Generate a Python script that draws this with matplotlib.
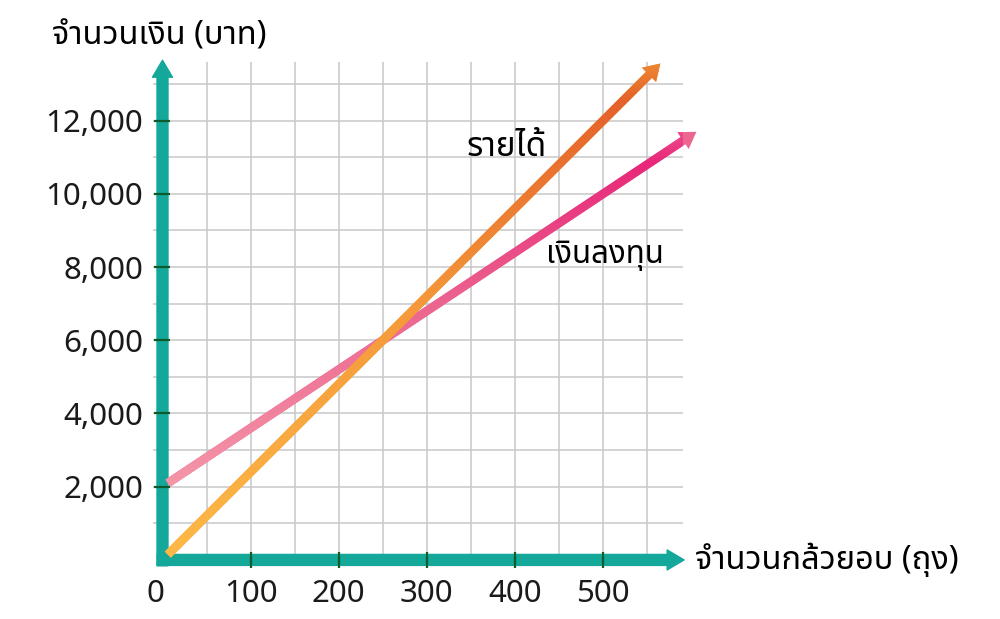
import numpy as np
import matplotlib
matplotlib.use('Agg')
import matplotlib.pyplot as plt
from matplotlib.colors import LinearSegmentedColormap

# === DATA ===
x_ticks = [0, 100, 200, 300, 400, 500]
y_ticks = [2000, 4000, 6000, 8000, 10000, 12000]
y_tick_labels = ['2,000', '4,000', '6,000', '8,000', '10,000', '12,000']

revenue_bags = [6, 565]
revenue_baht = [144, 13560]
invest_bags = [6, 606]
invest_baht = [2096, 11696]

y_label = 'จำนวนเงิน (บาท)'
x_label = 'จำนวนกล้วยอบ (ถุง)'
revenue_label = 'รายได้'
invest_label = 'เงินลงทุน'

THAI = ['Noto Sans Thai', 'Noto Sans', 'DejaVu Sans']
plt.rcParams['font.family'] = THAI

TEAL = '#14a89b'
TICK_GREEN = '#0f5a2c'
GRID = '#c8c8c8'


def gradient_arrow(ax, xs, ys, colors, zorder):
    # solid arrow first, then a vertical colour ramp clipped to its shape
    ann = ax.annotate('', xy=(xs[-1], ys[-1]), xytext=(xs[0], ys[0]), annotation_clip=False,
                      arrowprops=dict(arrowstyle='simple,tail_width=0.62,head_width=1.45,head_length=1.15',
                                      mutation_scale=10, facecolor=colors[1][1], linewidth=0,
                                      shrinkA=0, shrinkB=0),
                      zorder=zorder)
    cmap = LinearSegmentedColormap.from_list('g', colors)
    ramp = np.linspace(0, 1, 256).reshape(-1, 1)
    im = ax.imshow(ramp, cmap=cmap, origin='lower', aspect='auto', interpolation='bilinear',
                   extent=(xs[0] - 30, xs[-1] + 30, ys[0] - 400, ys[-1] + 400),
                   zorder=zorder + 0.1)
    im.set_clip_path(ann.arrow_patch)
    return ann


fig = plt.figure(figsize=(10, 6.19), dpi=100)
ax = fig.add_axes([0.1528, 0.0777, 0.5304, 0.822])
ax.set_xlim(-11, 591)
ax.set_ylim(-300, 13600)
for s in ax.spines.values():
    s.set_visible(False)

# grid
ax.vlines(range(50, 591, 50), 0, 13600, color=GRID, lw=1.1, zorder=1)
ax.hlines(range(1000, 13600, 1000), -11, 591, color=GRID, lw=1.1, zorder=1)

# axis arrows
ax.annotate('', xy=(0, 13650), xytext=(0, -160), annotation_clip=False,
            arrowprops=dict(arrowstyle='simple,tail_width=0.79,head_width=1.44,head_length=1.22',
                            mutation_scale=10, color=TEAL, shrinkA=0, shrinkB=0), zorder=2)
ax.annotate('', xy=(592, 0), xytext=(-6, 0), annotation_clip=False,
            arrowprops=dict(arrowstyle='simple,tail_width=0.79,head_width=1.44,head_length=1.22',
                            mutation_scale=10, color=TEAL, shrinkA=0, shrinkB=0), zorder=2)

# ticks
ax.spines['left'].set_position(('data', 0))
ax.spines['bottom'].set_position(('data', 0))
ax.set_xticks(x_ticks)
ax.set_xticklabels([''] + [str(v) for v in x_ticks[1:]])
ax.set_yticks(y_ticks)
ax.set_yticklabels(y_tick_labels)
ax.tick_params(axis='both', direction='inout', length=11.5, width=1.6, color=TICK_GREEN,
               pad=8, labelsize=22.5, labelcolor='#1a1a1a')
ax.xaxis.set_zorder(5)
ax.yaxis.set_zorder(5)
ax.xaxis.majorTicks[0].tick1line.set_visible(False)
# the "0" label sits a little left of the origin
ax.annotate(str(x_ticks[0]), xy=(x_ticks[0], 0), xytext=(-5, -13.75), textcoords='offset points',
            ha='center', va='top', fontsize=22.5, color='#1a1a1a', annotation_clip=False)

# data lines
gradient_arrow(ax, invest_bags, invest_baht,
               [(0, '#f599aa'), (0.5, '#ec6690'), (0.88, '#e8277a'), (1, '#ef5b93')], 3)
gradient_arrow(ax, revenue_bags, revenue_baht,
               [(0, '#fdbb47'), (0.5, '#f5993a'), (0.9, '#e4612b'), (1, '#f29535')], 3.5)

# texts
fig.text(0.052, 1 - 36 / 619, y_label, fontsize=23.5, ha='left', va='center', family=THAI)
fig.text(0.695, 1 - 560 / 619, x_label, fontsize=23.5, ha='left', va='center', family=THAI)
fig.text(0.467, 1 - 147 / 619, revenue_label, fontsize=24, ha='left', va='center', family=THAI)
fig.text(0.546, 1 - 256 / 619, invest_label, fontsize=22.5, ha='left', va='center', family=THAI)

fig.canvas.draw()
fig.savefig('out.png', dpi=100)
